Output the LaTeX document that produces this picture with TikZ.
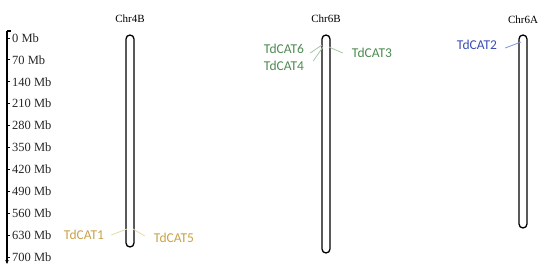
\documentclass[tikz,border=0pt]{standalone}
\usepackage{fontspec}
\setmainfont{Liberation Serif}
\newfontfamily\labfont{Carlito}
\usetikzlibrary{arrows.meta}
\definecolor{goldc}{HTML}{C9A24A}
\definecolor{goldl}{HTML}{E2DCA8}
\definecolor{greenc}{HTML}{4F8A52}
\definecolor{greenl}{HTML}{A8C4A8}
\definecolor{bluec}{HTML}{3B4FB3}
\definecolor{bluel}{HTML}{8592D6}
\tikzset{
  chrom/.style={draw=black, line width=1.3pt, rounded corners=4pt},
  chrname/.style={font=\fontsize{11}{12}\selectfont, inner sep=0pt},
  mb/.style={font=\fontsize{12.5}{13}\selectfont, anchor=west, inner sep=0pt, text=black!85},
  gene/.style={font=\labfont\fontsize{13.5}{14}\selectfont, inner sep=0pt},
  link/.style={line width=0.8pt}
}
\begin{document}
\begin{tikzpicture}[x=1pt,y=-1pt]
\useasboundingbox (0,0) rectangle (550,275);
% axis
\coordinate (axtop) at (7,31);
\coordinate (axbot) at (7,264);
\draw[line width=1.2pt, -{Stealth[length=4pt,width=3.5pt]}] (axtop) -- (axbot);
\coordinate (hook) at (11,31);
\draw[line width=1.2pt] (axtop) -- (hook);
\foreach \v [count=\i from 0] in {0,70,140,210,280,350,420,490,560,630,700} {
  \node[mb] (mb\i) at (12,{38+21.9*\i}) {\v{} Mb};
  \coordinate (tk\i) at (7,{38+21.9*\i});
  \coordinate (tke\i) at (10,{38+21.9*\i});
  \draw[line width=0.9pt] (tk\i) -- (tke\i);
}
% chromosomes
\node[chrom, minimum width=8pt, minimum height=212pt, inner sep=0pt] (c4b) at (130,141) {};
\node[chrom, minimum width=8pt, minimum height=218pt, inner sep=0pt] (c6b) at (326,144) {};
\node[chrom, minimum width=8pt, minimum height=193pt, inner sep=0pt] (c6a) at (523,131.5) {};
\node[chrname] (n4b) at (130,19) {Chr4B};
\node[chrname] (n6b) at (326,19) {Chr6B};
\node[chrname] (n6a) at (523,20) {Chr6A};
% genes
\node[gene, text=goldc] (cat1) at (84,235) {TdCAT1};
\node[gene, text=goldc] (cat5) at (174,238) {TdCAT5};
\node[gene, text=greenc] (cat6) at (284,49) {TdCAT6};
\node[gene, text=greenc] (cat4) at (284,66) {TdCAT4};
\node[gene, text=greenc] (cat3) at (372,53) {TdCAT3};
\node[gene, text=bluec] (cat2) at (477,45) {TdCAT2};
% link ends
\coordinate (p1) at (127,229);
\coordinate (p5) at (133,229);
\coordinate (p6) at (322,45);
\coordinate (p4) at (323,47);
\coordinate (p3) at (329,47);
\coordinate (p2) at (521,42);
\draw[link, goldl] ([xshift=7pt]cat1.east) -- (p1);
\draw[link, goldl] (p5) -- ([xshift=-9pt,yshift=2pt]cat5.west);
\draw[link, greenl] ([xshift=6pt,yshift=-4pt]cat6.east) -- (p6);
\draw[link, greenl] ([xshift=9pt,yshift=5pt]cat4.east) -- (p4);
\draw[link, greenl] (p3) -- ([xshift=-9pt]cat3.west);
\draw[link, bluel] ([xshift=8pt,yshift=-3pt]cat2.east) -- (p2);
\end{tikzpicture}
\end{document}
